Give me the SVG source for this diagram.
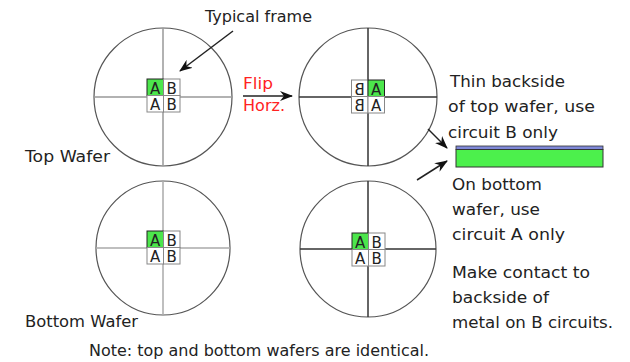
<svg xmlns="http://www.w3.org/2000/svg" width="630" height="362" viewBox="0 0 630 362">
<style>
  .wafer { fill: none; stroke: #555; stroke-width: 1.2; }
  .axL { stroke: #999; stroke-width: 1.5; }
  .axR { stroke: #333; stroke-width: 1.5; }
  .cell { fill: #fff; stroke: #888; stroke-width: 1; }
  .g { fill: #4ce64c; stroke: #222; stroke-width: 1; }
  .lt { font-family: "DejaVu Sans", "Liberation Sans", sans-serif; font-size: 15px; fill: #222; text-anchor: middle; }
  .t { font-family: "DejaVu Sans", "Liberation Sans", sans-serif; font-size: 16.5px; fill: #222; }
  .red { fill: #ff2222; }
  .conn { stroke: #222; stroke-width: 1.5; fill: none; marker-end: url(#ah); }
</style>
<defs>
  <marker id="ah" markerWidth="14" markerHeight="10" refX="12" refY="5" orient="auto" markerUnits="userSpaceOnUse">
    <path d="M0,0 L13,5 L0,10 L4,5 z" fill="#111"/>
  </marker>
</defs>
<rect width="630" height="362" fill="#fff"/>

<g id="top-wafer">
  <circle class="wafer" cx="163" cy="97" r="69"/>
  <line class="axL" x1="94" y1="97" x2="232" y2="97"/>
  <line class="axL" x1="163" y1="28" x2="163" y2="166"/>
  <rect class="g" x="147" y="79" width="16.5" height="16.5"/>
  <rect class="cell" x="163.5" y="79" width="16.5" height="16.5"/>
  <rect class="cell" x="147" y="95.5" width="16.5" height="16.5"/>
  <rect class="cell" x="163.5" y="95.5" width="16.5" height="16.5"/>
  <text class="lt" x="155.2" y="93.5">A</text>
  <text class="lt" x="171.7" y="93.5">B</text>
  <text class="lt" x="155.2" y="110">A</text>
  <text class="lt" x="171.7" y="110">B</text>
</g>

<g id="top-wafer-flipped">
  <circle class="wafer" cx="368" cy="97" r="69"/>
  <line class="axR" x1="299" y1="97" x2="437" y2="97"/>
  <line class="axR" x1="368" y1="28" x2="368" y2="166"/>
  <rect class="cell" x="351.5" y="80" width="16.5" height="16.5"/>
  <rect class="g" x="368" y="80" width="16.5" height="16.5"/>
  <rect class="cell" x="351.5" y="96.5" width="16.5" height="16.5"/>
  <rect class="cell" x="368" y="96.5" width="16.5" height="16.5"/>
  <text class="lt" transform="translate(359.7,94.5) scale(-1,1)">B</text>
  <text class="lt" x="376.2" y="94.5">A</text>
  <text class="lt" transform="translate(359.7,111) scale(-1,1)">B</text>
  <text class="lt" x="376.2" y="111">A</text>
</g>

<g id="bottom-wafer">
  <circle class="wafer" cx="163" cy="248" r="67"/>
  <line class="axL" x1="96" y1="248" x2="230" y2="248" style="stroke:#aaa"/>
  <line class="axL" x1="163" y1="181" x2="163" y2="315" style="stroke:#aaa"/>
  <rect class="g" x="147" y="231" width="16.5" height="16.5"/>
  <rect class="cell" x="163.5" y="231" width="16.5" height="16.5"/>
  <rect class="cell" x="147" y="247.5" width="16.5" height="16.5"/>
  <rect class="cell" x="163.5" y="247.5" width="16.5" height="16.5"/>
  <text class="lt" x="155.2" y="245.5">A</text>
  <text class="lt" x="171.7" y="245.5">B</text>
  <text class="lt" x="155.2" y="262">A</text>
  <text class="lt" x="171.7" y="262">B</text>
</g>

<g id="bottom-wafer-2">
  <circle class="wafer" cx="368" cy="249" r="68"/>
  <line class="axR" x1="300" y1="249" x2="436" y2="249"/>
  <line class="axR" x1="368" y1="181" x2="368" y2="317"/>
  <rect class="g" x="352" y="233" width="16.5" height="16.5"/>
  <rect class="cell" x="368.5" y="233" width="16.5" height="16.5"/>
  <rect class="cell" x="352" y="249.5" width="16.5" height="16.5"/>
  <rect class="cell" x="368.5" y="249.5" width="16.5" height="16.5"/>
  <text class="lt" x="360.2" y="247.5">A</text>
  <text class="lt" x="376.7" y="247.5">B</text>
  <text class="lt" x="360.2" y="264">A</text>
  <text class="lt" x="376.7" y="264">B</text>
</g>

<g id="stack">
  <rect x="456" y="146" width="147" height="3.5" fill="#7f88d8" stroke="#333" stroke-width="0.8"/>
  <rect x="456" y="149.5" width="147" height="17.5" fill="#4cf04c" stroke="#333" stroke-width="1"/>
</g>

<g id="connectors">
  <line class="conn" x1="233" y1="31" x2="180" y2="71"/>
  <line class="conn" x1="243" y1="96" x2="292" y2="96"/>
  <line class="conn" x1="428" y1="129" x2="447" y2="148"/>
  <line class="conn" x1="417" y1="180" x2="447" y2="161"/>
</g>

<g id="labels">
  <text class="t" x="205" y="22" textLength="107" lengthAdjust="spacingAndGlyphs">Typical frame</text>
  <text class="t red" x="243" y="89" textLength="30" lengthAdjust="spacingAndGlyphs">Flip</text>
  <text class="t red" x="243" y="111" textLength="42" lengthAdjust="spacingAndGlyphs">Horz.</text>
  <text class="t" x="450" y="87" textLength="115" lengthAdjust="spacingAndGlyphs">Thin backside</text>
  <text class="t" x="448" y="112" textLength="147" lengthAdjust="spacingAndGlyphs">of top wafer, use</text>
  <text class="t" x="448" y="138" textLength="110" lengthAdjust="spacingAndGlyphs">circuit B only</text>
  <text class="t" x="25" y="162" textLength="85" lengthAdjust="spacingAndGlyphs">Top Wafer</text>
  <text class="t" x="25" y="327" textLength="113" lengthAdjust="spacingAndGlyphs">Bottom Wafer</text>
  <text class="t" x="452" y="190" textLength="90" lengthAdjust="spacingAndGlyphs">On bottom</text>
  <text class="t" x="452" y="215" textLength="88" lengthAdjust="spacingAndGlyphs">wafer, use</text>
  <text class="t" x="452" y="240" textLength="113" lengthAdjust="spacingAndGlyphs">circuit A only</text>
  <text class="t" x="452" y="278" textLength="138" lengthAdjust="spacingAndGlyphs">Make contact to</text>
  <text class="t" x="452" y="303" textLength="97" lengthAdjust="spacingAndGlyphs">backside of</text>
  <text class="t" x="452" y="328" textLength="161" lengthAdjust="spacingAndGlyphs">metal on B circuits.</text>
  <text class="t" x="89" y="356" textLength="340" lengthAdjust="spacingAndGlyphs">Note: top and bottom wafers are identical.</text>
</g>
</svg>
